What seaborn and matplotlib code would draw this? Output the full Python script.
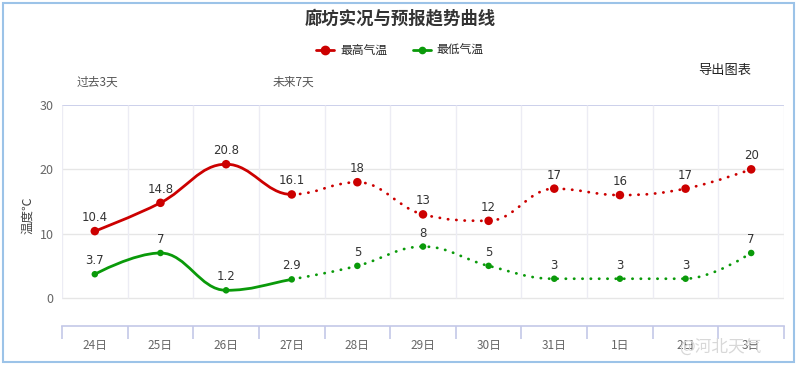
import pandas as pd
import numpy as np
import matplotlib
matplotlib.use('Agg')
import matplotlib.pyplot as plt
import seaborn as sns
from matplotlib.path import Path
from matplotlib.patches import PathPatch, Rectangle
from matplotlib.lines import Line2D

days = ['24日', '25日', '26日', '27日', '28日', '29日', '30日', '31日', '1日', '2日', '3日']
high = [10.4, 14.8, 20.8, 16.1, 18, 13, 12, 17, 16, 17, 20]
low = [3.7, 7, 1.2, 2.9, 5, 8, 5, 3, 3, 3, 7]
high_labels = ['10.4', '14.8', '20.8', '16.1', '18', '13', '12', '17', '16', '17', '20']
low_labels = ['3.7', '7', '1.2', '2.9', '5', '8', '5', '3', '3', '3', '7']
n_past = 4  # 24-27 are observed (solid), rest forecast (dotted)

df = pd.DataFrame({'x': range(len(days)), 'day': days, 'high': high, 'low': low})

sns.set_theme(style="white")
plt.rcParams['font.family'] = ['Noto Sans CJK SC', 'DejaVu Sans']

RED = '#cc0000'
GREEN = '#0a9a0a'
AXC = '#c4c8e8'


def spline_conts(xs, ys, smoothing=1.5):
    # highcharts-like spline control points
    d = smoothing + 1
    n = len(xs)
    lc = [(xs[i], ys[i]) for i in range(n)]
    rc = [(xs[i], ys[i]) for i in range(n)]
    for i in range(1, n - 1):
        px, py = xs[i], ys[i]
        lx, ly = xs[i - 1], ys[i - 1]
        nx, ny = xs[i + 1], ys[i + 1]
        lcx = (smoothing * px + lx) / d
        lcy = (smoothing * py + ly) / d
        rcx = (smoothing * px + nx) / d
        rcy = (smoothing * py + ny) / d
        corr = ((rcy - lcy) * (rcx - px)) / (rcx - lcx) + py - rcy
        lcy += corr
        rcy += corr
        if lcy > ly and lcy > py:
            lcy = max(ly, py); rcy = 2 * py - lcy
        elif lcy < ly and lcy < py:
            lcy = min(ly, py); rcy = 2 * py - lcy
        if rcy > ny and rcy > py:
            rcy = max(ny, py); lcy = 2 * py - rcy
        elif rcy < ny and rcy < py:
            rcy = min(ny, py); lcy = 2 * py - rcy
        lc[i] = (lcx, lcy)
        rc[i] = (rcx, rcy)
    return lc, rc


def curve(ax, xs, ys, i0, i1, color, ls):
    lc, rc = spline_conts(xs, ys)
    verts = [(xs[i0], ys[i0])]
    codes = [Path.MOVETO]
    for i in range(i0 + 1, i1 + 1):
        verts += [rc[i - 1], lc[i], (xs[i], ys[i])]
        codes += [Path.CURVE4] * 3
    ax.add_patch(PathPatch(Path(verts, codes), fill=False, ec=color, lw=2,
                           ls=ls, capstyle='round', zorder=3))


fig = plt.figure(figsize=(8, 3.65), dpi=100)
ax = fig.add_axes([0.0775, 0.1068, 0.9025, 0.6055])

xs = df['x'].tolist()
last = len(xs) - 1
for col, color in [('high', RED), ('low', GREEN)]:
    ys = df[col].tolist()
    curve(ax, xs, ys, 0, n_past - 1, color, '-')
    curve(ax, xs, ys, n_past - 1, last, color, (0, (0.1, 2.9)))

sns.scatterplot(data=df, x='x', y='high', color=RED, s=38, edgecolor='none', zorder=4, ax=ax)
sns.scatterplot(data=df, x='x', y='low', color=GREEN, s=22, edgecolor='none', zorder=4, ax=ax)

for i in range(len(days)):
    ax.annotate(high_labels[i], (xs[i], high[i]), xytext=(0, 5), textcoords='offset points',
                ha='center', va='bottom', fontsize=8.5, color='#333333', family='DejaVu Sans')
    ax.annotate(low_labels[i], (xs[i], low[i]), xytext=(0, 5), textcoords='offset points',
                ha='center', va='bottom', fontsize=8.5, color='#333333', family='DejaVu Sans')

ax.set_xlim(-0.5, len(days) - 0.5)
ax.set_ylim(-4.35, 30)

# grid
for v in [0, 10, 20]:
    ax.axhline(v, color='#e6e6e6', lw=1, zorder=0)
ax.axhline(30, color=AXC, lw=1.2, zorder=0)
ax.vlines(np.arange(-0.5, len(days)), 0, 30, color='#ececf4', lw=1, zorder=0)

for s in ['top', 'right', 'left']:
    ax.spines[s].set_visible(False)
ax.spines['bottom'].set_color(AXC)
ax.spines['bottom'].set_linewidth(1.2)

ax.set_yticks([0, 10, 20, 30])
ax.set_yticklabels(['0', '10', '20', '30'], fontsize=9, color='#666666')
ax.set_xticks(xs)
ax.set_xticklabels(days, fontsize=8.5, color='#666666')
ax.tick_params(axis='x', length=0, pad=9)
ax.tick_params(axis='y', length=0, pad=6)
ax.set_xticks(np.arange(-0.5, len(days)), minor=True)
ax.tick_params(axis='x', which='minor', bottom=True, length=9, color=AXC, width=1.2,
               direction='out')
ax.set_xlabel('')
ax.set_ylabel('温度℃', fontsize=9, color='#444444', labelpad=4)

fig.text(0.5, 0.95, '廊坊实况与预报趋势曲线', ha='center', va='center', fontsize=12.5,
         fontweight='bold', color='#333333')
handles = [Line2D([0], [0], color=RED, lw=2, marker='o', ms=6),
           Line2D([0], [0], color=GREEN, lw=2, marker='o', ms=4.5)]
fig.legend(handles, ['最高气温', '最低气温'], loc='center', bbox_to_anchor=(0.5, 0.862),
           ncol=2, frameon=False, fontsize=8.5, handlelength=1.5, columnspacing=2.2,
           handletextpad=0.5)
fig.text(0.906, 0.808, '导出图表', ha='center', va='center', fontsize=9.5, color='#222222')
fig.text(0.122, 0.775, '过去3天', ha='center', va='center', fontsize=8.5, color='#555555')
fig.text(0.367, 0.775, '未来7天', ha='center', va='center', fontsize=8.5, color='#555555')
fig.text(0.90, 0.05, '@河北天气', ha='center', va='center', fontsize=12, color='#d8d8d8',
         zorder=0)

fig.patches.append(Rectangle((0.004, 0.008), 0.988, 0.985, transform=fig.transFigure,
                             fill=False, ec='#9cc3e8', lw=1.5))

plt.savefig('out.png', dpi=100)
plt.close()
